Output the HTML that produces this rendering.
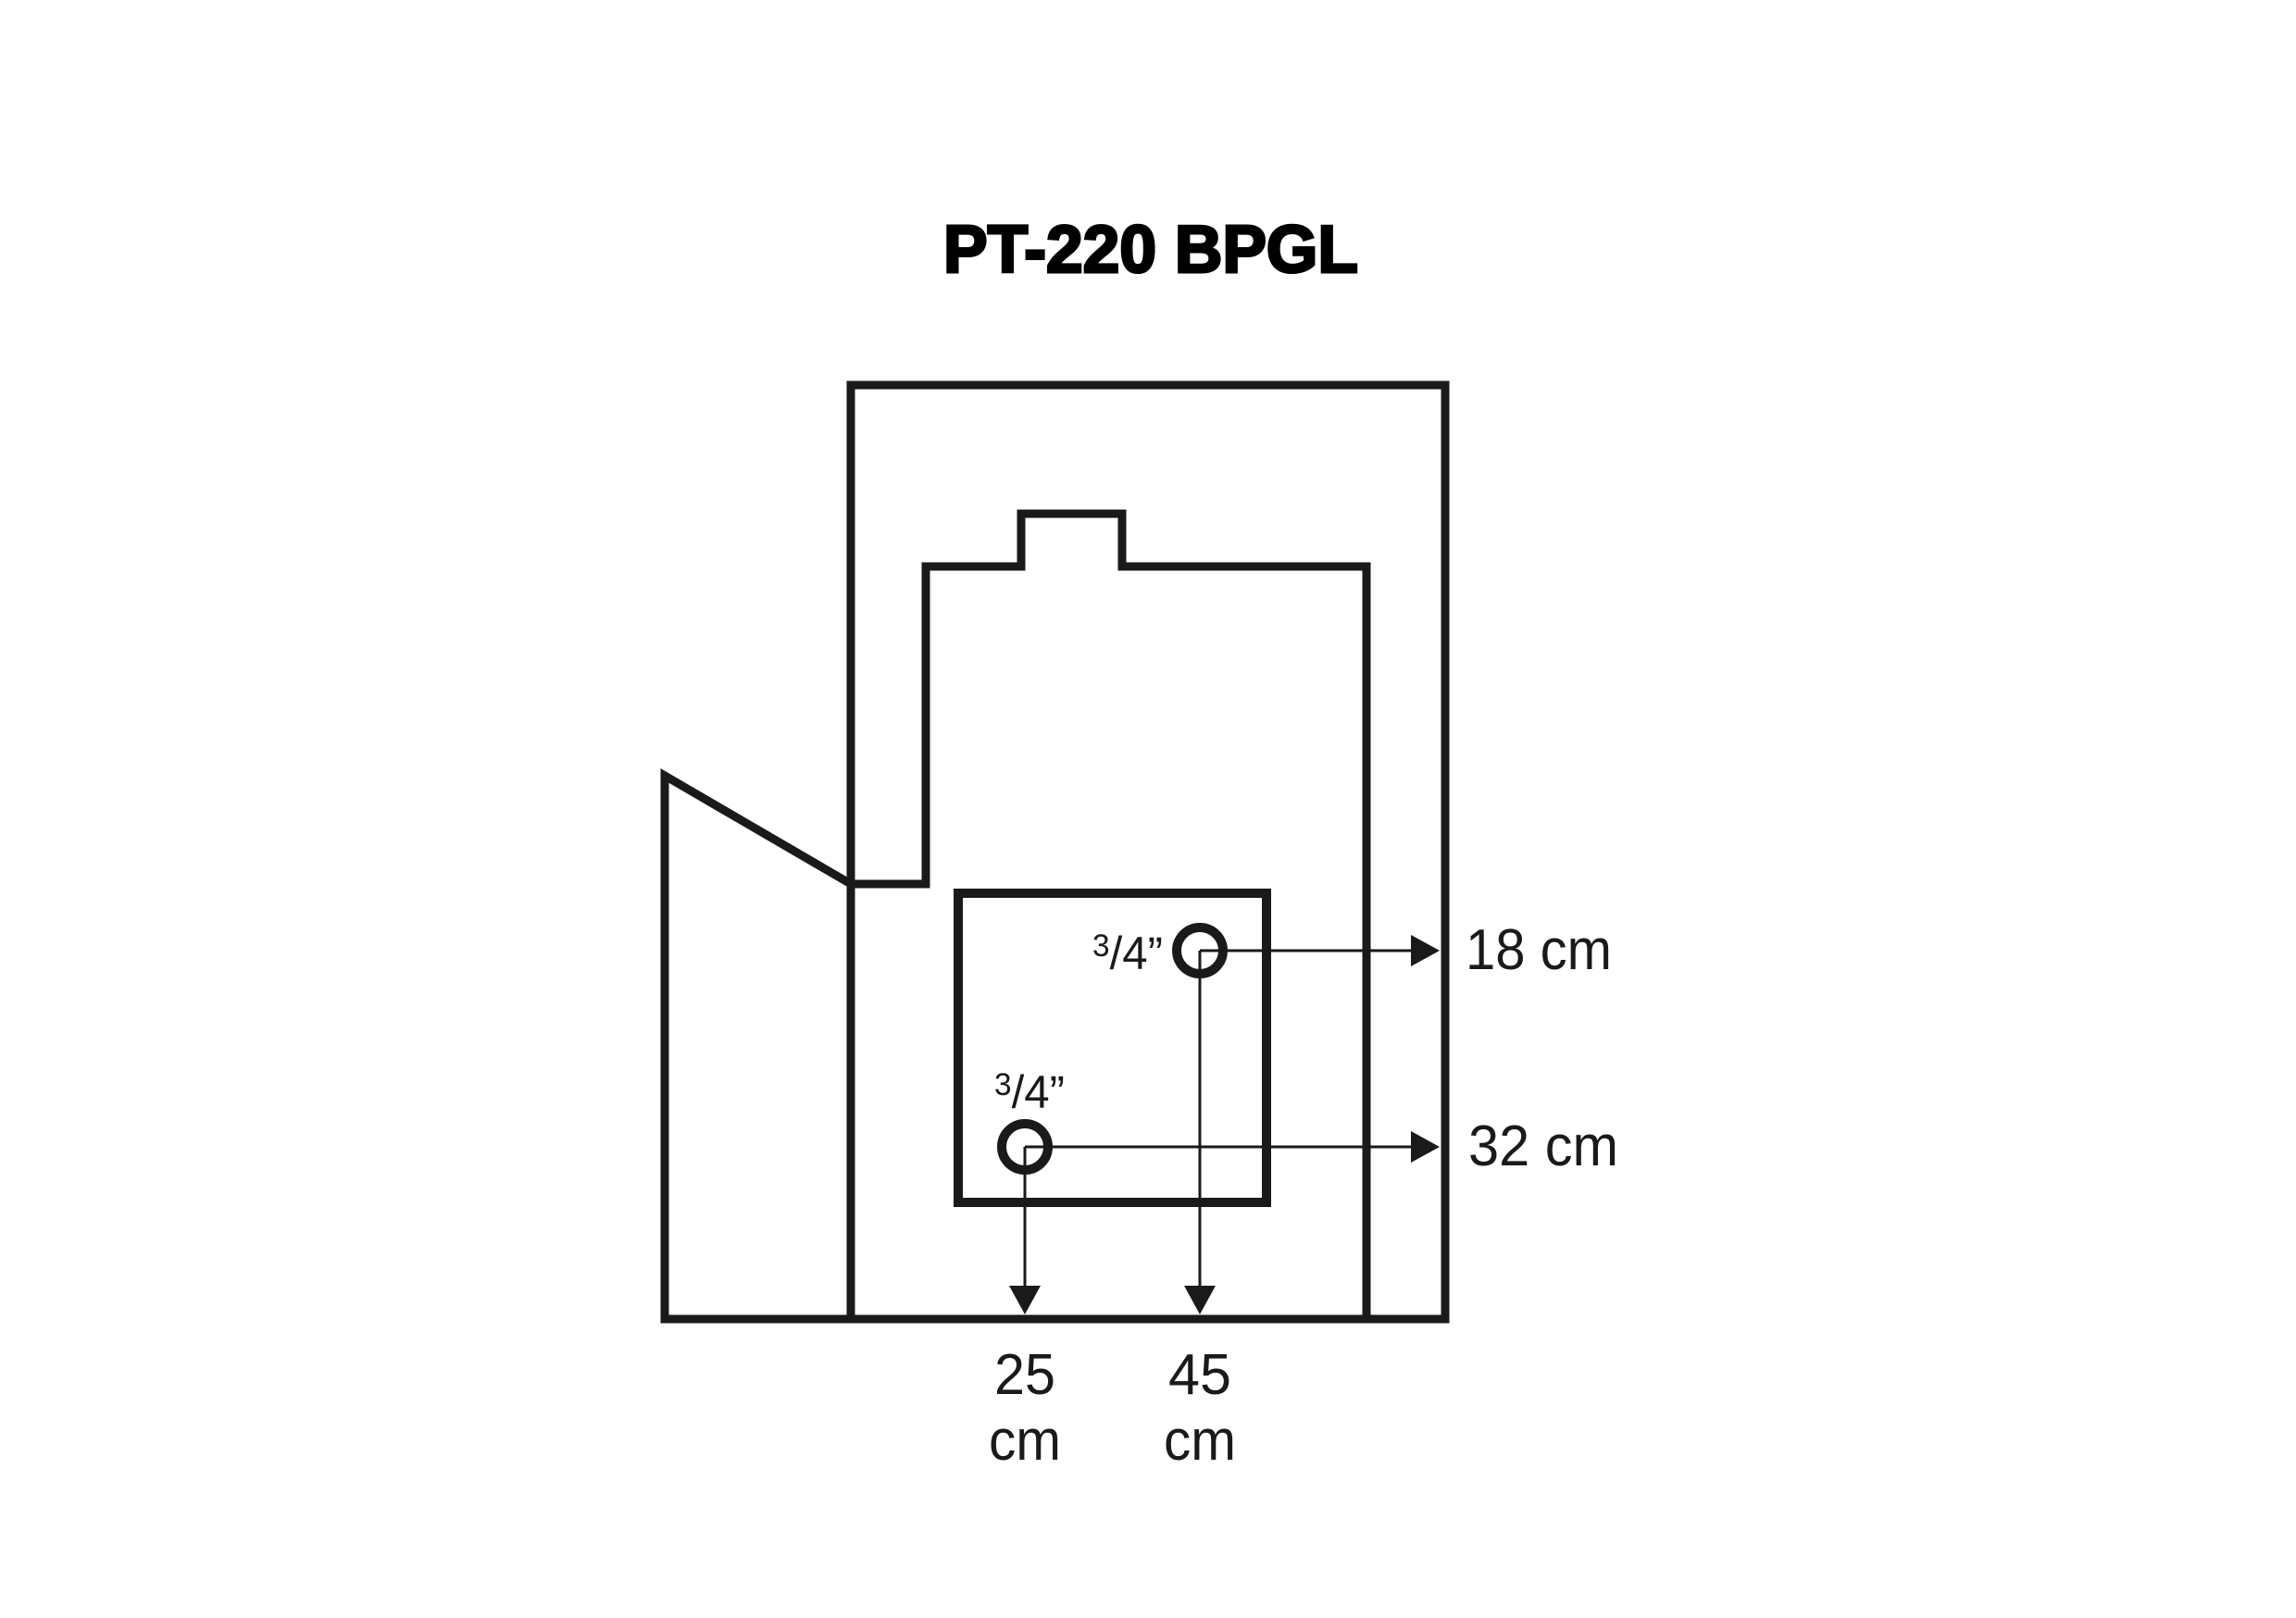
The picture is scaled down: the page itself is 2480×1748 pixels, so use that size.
<!DOCTYPE html>
<html><head><meta charset="utf-8"><style>html,body{margin:0;padding:0;background:#fff}svg{display:block}</style></head>
<body>
<svg width="2480" height="1748" viewBox="0 0 2480 1748" xmlns="http://www.w3.org/2000/svg">
<rect width="2480" height="1748" fill="#fff"/>
<text x="1243" y="294" font-family="Liberation Sans, sans-serif" font-weight="bold" font-size="72" text-anchor="middle" textLength="448" lengthAdjust="spacingAndGlyphs" fill="#000" stroke="#000" stroke-width="3">PT-220 BPGL</text>
<g fill="none" stroke="#1a1a1a" stroke-width="9" stroke-linejoin="miter">
<rect x="919" y="416" width="642" height="1009"/>
<polyline points="919,955 1000,955 1000,612 1103,612 1103,555 1212,555 1212,612 1476,612 1476,1425"/>
<polyline points="919,955 718,838 718,1425 919,1425"/>
<rect x="1035" y="965" width="333" height="334" stroke-width="10"/>
<circle cx="1296" cy="1027" r="25" stroke-width="10"/>
<circle cx="1107" cy="1239" r="25" stroke-width="10"/>
</g>
<g stroke="#1a1a1a" stroke-width="3">
<line x1="1296" y1="1027" x2="1525" y2="1027"/>
<line x1="1107" y1="1239" x2="1525" y2="1239"/>
<line x1="1296" y1="1027" x2="1296" y2="1392"/>
<line x1="1107" y1="1239" x2="1107" y2="1392"/>
</g>
<g fill="#1a1a1a">
<polygon points="1524,1010 1555,1027 1524,1044"/>
<polygon points="1524,1222 1555,1239 1524,1256"/>
<polygon points="1090,1389 1124,1389 1107,1420"/>
<polygon points="1279,1389 1313,1389 1296,1420"/>
</g>
<g font-family="Liberation Sans, DejaVu Sans, sans-serif" font-size="62" fill="#1a1a1a">
<text x="1583" y="1047" textLength="158" lengthAdjust="spacingAndGlyphs">18 cm</text>
<text x="1586" y="1259" textLength="162" lengthAdjust="spacingAndGlyphs">32 cm</text>
<text x="1107" y="1506" text-anchor="middle" textLength="66" lengthAdjust="spacingAndGlyphs">25</text>
<text x="1107" y="1577" text-anchor="middle" textLength="78" lengthAdjust="spacingAndGlyphs">cm</text>
<text x="1296" y="1506" text-anchor="middle" textLength="68" lengthAdjust="spacingAndGlyphs">45</text>
<text x="1296" y="1577" text-anchor="middle" textLength="78" lengthAdjust="spacingAndGlyphs">cm</text>
<text x="1180" y="1047" font-size="50" textLength="76" lengthAdjust="spacingAndGlyphs"><tspan font-size="34" dy="-14">3</tspan><tspan dy="14">/4”</tspan></text>
<text x="1074" y="1197" font-size="50" textLength="76" lengthAdjust="spacingAndGlyphs"><tspan font-size="34" dy="-14">3</tspan><tspan dy="14">/4”</tspan></text>
</g>
</svg>
</body></html>
